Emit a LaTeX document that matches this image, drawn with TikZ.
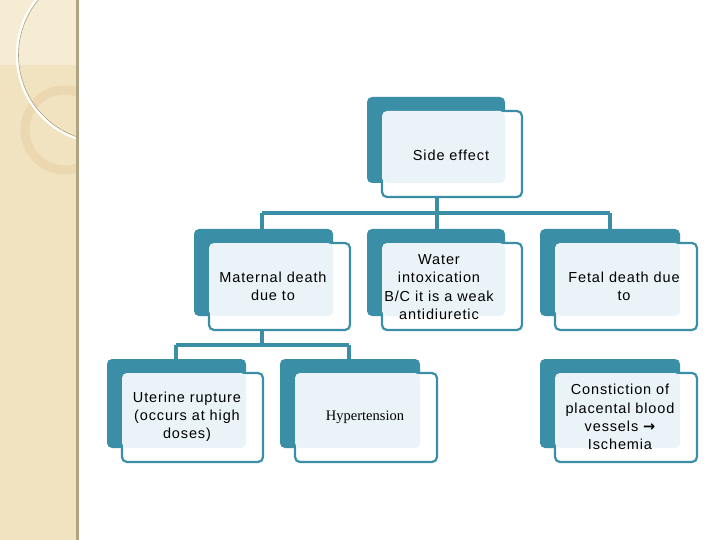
\documentclass[tikz,border=0pt]{standalone}
\usepackage{fontspec}
\setmainfont[LetterSpace=6]{Liberation Sans}
\newfontfamily\serifx{Liberation Serif}
\newfontfamily\djv{DejaVu Sans}
\definecolor{teal1}{HTML}{3A8EA5}
\definecolor{light1}{HTML}{EAF3F7}
\definecolor{beige}{HTML}{F2E3C0}
\definecolor{edge1}{HTML}{B0A382}
\tikzset{lbl/.style={align=center,font=\fontsize{14.5}{18.2}\selectfont,inner sep=0},
 conn/.style={draw=teal1,line width=3.2pt}}
\newcommand{\mybox}[6]{%
 \fill[teal1,rounded corners=5pt] (#2,#3) rectangle (#4-17,#5-14);
 \draw[teal1,fill=white,line width=2.2pt,rounded corners=5pt] (#2+15,#3+14) rectangle (#4,#5);
 \fill[light1,rounded corners=5pt] (#2+15,#3+14) rectangle (#4-17,#5-14);}
\begin{document}
\begin{tikzpicture}[x=1pt,y=-1pt]
\useasboundingbox (0,0) rectangle (720,540);
\fill[white] (0,0) rectangle (720,540);
\begin{scope}
\clip (0,0) rectangle (78,540);
\fill[beige] (0,0) rectangle (78,540);
\fill[beige!70!white] (0,0) rectangle (78,65);
\draw[beige!85!brown,line width=9pt,opacity=0.8] (65,130) circle (40);
\draw[white,line width=2.5pt] (105,55) circle (88);
\draw[edge1,line width=0.6pt] (105,55) circle (86.5);
\end{scope}
\fill[edge1] (76,0) rectangle (79,540);
\mybox{top}{367}{97}{522}{197}{}
\node[lbl] (t1) at (451,155) {Side effect};
\mybox{mat}{194}{229}{350}{330}{}
\node[lbl] (t2) at (273,286) {Maternal death\\ due to};
\mybox{wat}{367}{229}{522}{330}{}
\node[lbl] (t3) at (439,287) {Water\\ intoxication\\ B/C it is a weak\\ antidiuretic};
\mybox{fet}{540}{229}{697}{330}{}
\node[lbl] (t4) at (624,286) {Fetal death due\\ to};
\mybox{ute}{107}{359}{263}{462}{}
\node[lbl] (t5) at (187,417) {Uterine rupture\\ (occurs at high\\ doses)};
\mybox{hyp}{280}{359}{437}{462}{}
\node[lbl,font=\serifx\fontsize{14.5}{18}\selectfont] (t6) at (365,417) {Hypertension};
\mybox{con}{540}{359}{697}{462}{}
\node[lbl] (t7) at (620,417) {Constiction of\\ placental blood\\ vessels {\djv\bfseries →}\\ Ischemia};
\coordinate (j0) at (437,197);
\coordinate (j1) at (437,213);
\coordinate (l1) at (262,213); \coordinate (r1) at (610,213);
\coordinate (l1b) at (262,229); \coordinate (m1b) at (437,229); \coordinate (r1b) at (610,229);
\draw[conn] (j0) -- (j1);
\draw[conn] (l1) -- (r1);
\draw[conn] (l1) -- (l1b); \draw[conn] (j1) -- (m1b); \draw[conn] (r1) -- (r1b);
\coordinate (j3) at (262,330);
\coordinate (j2) at (262,345);
\coordinate (l2) at (176,345); \coordinate (r2) at (349,345);
\coordinate (l2b) at (176,359); \coordinate (r2b) at (349,359);
\draw[conn] (j3) -- (j2);
\draw[conn] (l2) -- (r2);
\draw[conn] (l2) -- (l2b); \draw[conn] (r2) -- (r2b);
\end{tikzpicture}
\end{document}
